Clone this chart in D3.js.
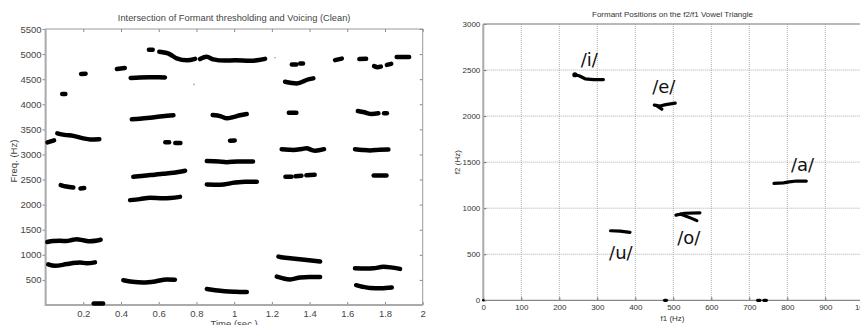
<!DOCTYPE html>
<html>
<head>
<meta charset="utf-8">
<script src="https://cdn.jsdelivr.net/npm/d3@7"></script>
<style>
  body { margin: 0; background: #fff; }
  svg { display: block; font-family: "Liberation Sans", Arial, sans-serif; }
</style>
</head>
<body>
<svg id="chart" width="860" height="325"></svg>
<script>
// ---- left panel: formant tracks, [time (s), freq (Hz)] ----
const timeTicks = [0.2, 0.4, 0.6, 0.8, 1, 1.2, 1.4, 1.6, 1.8, 2];
const freqTicks = [500, 1000, 1500, 2000, 2500, 3000, 3500, 4000, 4500, 5000, 5500];

const formantTracks = [
  [[0.01, 3240], [0.045, 3280]],
  [[0.062, 3420], [0.1, 3390], [0.147, 3370], [0.2, 3320], [0.236, 3300], [0.285, 3305]],
  [[0.088, 4205], [0.105, 4205]],
  [[0.188, 4605], [0.212, 4610]],
  [[0.378, 4705], [0.42, 4722]],
  [[0.451, 4525], [0.5, 4535], [0.55, 4540], [0.6, 4540], [0.633, 4535]],
  [[0.548, 5085], [0.568, 5085]],
  [[0.603, 5045], [0.66, 4995], [0.695, 4915], [0.75, 4875], [0.793, 4905]],
  [[0.819, 4900], [0.855, 4945], [0.89, 4895], [0.95, 4870], [1.005, 4875], [1.084, 4865], [1.164, 4905]],
  [[1.306, 4795], [1.33, 4795]],
  [[1.35, 4815], [1.365, 4815]],
  [[1.27, 4448], [1.332, 4416], [1.394, 4496], [1.42, 4516]],
  [[1.535, 4880], [1.571, 4910]],
  [[1.664, 4900], [1.7, 4906]],
  [[1.742, 4760], [1.76, 4740], [1.778, 4750]],
  [[1.81, 4785], [1.833, 4805]],
  [[1.862, 4940], [1.928, 4940]],
  [[0.457, 3700], [0.5, 3710], [0.554, 3730], [0.62, 3760], [0.678, 3780]],
  [[0.886, 3785], [0.93, 3760], [0.961, 3720], [1.0, 3750], [1.031, 3780], [1.067, 3805]],
  [[1.29, 3830], [1.33, 3830]],
  [[1.656, 3865], [1.69, 3840], [1.73, 3805], [1.765, 3820]],
  [[1.795, 3820], [1.81, 3820]],
  [[0.635, 3241], [0.655, 3241]],
  [[0.688, 3227], [0.715, 3227]],
  [[0.978, 3275], [1.003, 3280]],
  [[1.252, 3105], [1.29, 3095], [1.314, 3090], [1.36, 3110], [1.385, 3125], [1.41, 3090], [1.43, 3075], [1.477, 3105]],
  [[1.641, 3105], [1.68, 3090], [1.721, 3080], [1.77, 3095], [1.818, 3100]],
  [[0.855, 2870], [0.92, 2860], [0.96, 2845], [1.02, 2860], [1.1, 2860]],
  [[0.465, 2555], [0.51, 2570], [0.554, 2590], [0.62, 2615], [0.678, 2635], [0.74, 2675]],
  [[0.08, 2390], [0.11, 2360], [0.147, 2340]],
  [[0.185, 2320], [0.205, 2330]],
  [[0.448, 2090], [0.5, 2110], [0.554, 2135], [0.624, 2125], [0.713, 2155]],
  [[0.855, 2400], [0.925, 2395], [1.005, 2440], [1.06, 2455], [1.12, 2455]],
  [[1.272, 2556], [1.304, 2556]],
  [[1.325, 2565], [1.357, 2575]],
  [[1.383, 2585], [1.427, 2595]],
  [[1.74, 2583], [1.808, 2583]],
  [[0.009, 1255], [0.04, 1275], [0.076, 1280], [0.11, 1275], [0.145, 1300], [0.165, 1310], [0.2, 1290], [0.236, 1270], [0.292, 1300]],
  [[0.014, 810], [0.05, 780], [0.112, 815], [0.16, 840], [0.182, 848], [0.218, 830], [0.262, 850]],
  [[0.255, 30], [0.305, 30]],
  [[0.412, 495], [0.46, 465], [0.518, 450], [0.58, 470], [0.642, 510], [0.686, 505]],
  [[0.855, 320], [0.9, 295], [0.95, 275], [1.005, 265], [1.067, 260]],
  [[1.235, 965], [1.26, 945], [1.297, 930], [1.385, 895], [1.456, 865]],
  [[1.226, 565], [1.26, 530], [1.297, 510], [1.35, 550], [1.4, 560], [1.456, 560]],
  [[1.641, 730], [1.7, 725], [1.738, 730], [1.792, 760], [1.83, 750], [1.88, 720]],
  [[1.647, 395], [1.68, 365], [1.721, 340], [1.78, 335], [1.836, 350]]
];
const specks = [[0.787, 4396], [1.217, 4926]];

// ---- right panel: vowel clusters, [f1 (Hz), f2 (Hz)] ----
const f1Ticks = [0, 100, 200, 300, 400, 500, 600, 700, 800, 900, 1000];
const f2Ticks = [0, 500, 1000, 1500, 2000, 2500, 3000];

const vowelClusters = [
  [[241, 2449], [252, 2438], [268, 2405], [290, 2396], [316, 2397]],
  [[450, 2120], [465, 2110], [480, 2125], [505, 2140]],
  [[455, 2115], [470, 2075]],
  [[507, 925], [530, 945], [570, 950]],
  [[520, 935], [545, 895], [562, 865]],
  [[335, 755], [360, 752], [386, 738]],
  [[765, 1270], [790, 1275], [805, 1285], [825, 1295], [850, 1295]],
  [[477, 0], [482, 0]],
  [[722, 0], [728, 0]],
  [[738, 0], [745, 0]]
];
const vowelLabels = ['/i/', '/e/', '/a/', '/o/', '/u/'];
const labelF1 = [279, 475, 840, 541, 362];
const labelF2 = [2545, 2250, 1405, 612, 449];

const svg = d3.select('#chart');
const plain = d => String(d);

// ---------- left panel ----------
const L = { left: 45.6, right: 422.7, top: 29, bottom: 305 };
const xT = d3.scaleLinear().domain([0, 2]).range([L.left, L.right]);
const yF = d3.scaleLinear().domain([0, 5500]).range([L.bottom, L.top]);

const left = svg.append('g');

left.append('g')
  .attr('transform', 'translate(0,' + L.bottom + ')')
  .call(d3.axisBottom(xT).tickValues(timeTicks).tickFormat(plain).tickSize(-3).tickPadding(5).tickSizeOuter(0))
  .call(g => g.select('.domain').remove())
  .call(g => g.selectAll('line').attr('stroke', '#888'))
  .call(g => g.selectAll('text').attr('fill', '#444').style('font-size', '9.5px'));

left.append('g')
  .attr('transform', 'translate(0,' + L.top + ')')
  .call(d3.axisTop(xT).tickValues(timeTicks).tickSize(-3).tickFormat('').tickSizeOuter(0))
  .call(g => g.select('.domain').remove())
  .call(g => g.selectAll('line').attr('stroke', '#888'));

left.append('g')
  .attr('transform', 'translate(' + L.left + ',0)')
  .call(d3.axisLeft(yF).tickValues(freqTicks).tickFormat(plain).tickSize(3).tickPadding(1).tickSizeOuter(0))
  .call(g => g.select('.domain').remove())
  .call(g => g.selectAll('line').attr('stroke', '#888'))
  .call(g => g.selectAll('text').attr('fill', '#444').style('font-size', '9.5px'));

left.append('g')
  .attr('transform', 'translate(' + L.right + ',0)')
  .call(d3.axisRight(yF).tickValues(freqTicks).tickSize(-3).tickFormat('').tickSizeOuter(0))
  .call(g => g.select('.domain').remove())
  .call(g => g.selectAll('line').attr('stroke', '#888'));

left.append('rect')
  .attr('x', L.left).attr('y', L.top)
  .attr('width', L.right - L.left).attr('height', L.bottom - L.top)
  .attr('fill', 'none').attr('stroke', '#999').attr('stroke-width', 1);
left.append('line')
  .attr('x1', L.left).attr('x2', L.left).attr('y1', L.top).attr('y2', L.bottom + 1)
  .attr('stroke', '#aaa').attr('stroke-width', 2);
left.append('line')
  .attr('x1', L.left).attr('x2', L.right).attr('y1', L.bottom).attr('y2', L.bottom)
  .attr('stroke', '#aaa').attr('stroke-width', 2);

const trackLine = d3.line()
  .x(d => xT(d[0]))
  .y(d => yF(d[1]))
  .curve(d3.curveMonotoneX);

left.selectAll('path.track')
  .data(formantTracks)
  .enter()
  .append('path')
  .attr('class', 'track')
  .attr('d', trackLine)
  .attr('fill', 'none')
  .attr('stroke', '#000')
  .attr('stroke-width', 4.5)
  .attr('stroke-linecap', 'round')
  .attr('stroke-linejoin', 'round');

left.selectAll('circle.speck')
  .data(specks)
  .enter()
  .append('circle')
  .attr('cx', d => xT(d[0]))
  .attr('cy', d => yF(d[1]))
  .attr('r', 0.8)
  .attr('fill', '#999');

left.append('text')
  .attr('x', (L.left + L.right) / 2).attr('y', 20.5)
  .attr('text-anchor', 'middle')
  .style('font-size', '9.3px').attr('fill', '#444')
  .text('Intersection of Formant thresholding and Voicing (Clean)');

left.append('text')
  .attr('x', (L.left + L.right) / 2).attr('y', 327)
  .attr('text-anchor', 'middle')
  .style('font-size', '9.5px').attr('fill', '#444')
  .text('Time (sec.)');

left.append('text')
  .attr('transform', 'translate(17,' + ((L.top + L.bottom) / 2 - 6) + ') rotate(-90)')
  .attr('text-anchor', 'middle')
  .style('font-size', '9.5px').attr('fill', '#444')
  .text('Freq. (Hz)');

// ---------- right panel ----------
const R = { left: 483.3, right: 863.3, top: 24, bottom: 300.3 };
const xF1 = d3.scaleLinear().domain([0, 1000]).range([R.left, R.right]);
const yF2 = d3.scaleLinear().domain([0, 3000]).range([R.bottom, R.top]);

const right = svg.append('g');

// dotted grid
right.append('g')
  .selectAll('line')
  .data(f1Ticks.slice(1))
  .enter()
  .append('line')
  .attr('x1', d => xF1(d)).attr('x2', d => xF1(d))
  .attr('y1', R.top).attr('y2', R.bottom)
  .attr('stroke', '#999').attr('stroke-width', 0.8).attr('stroke-dasharray', '1,1');
right.append('g')
  .selectAll('line')
  .data(f2Ticks.slice(1))
  .enter()
  .append('line')
  .attr('x1', R.left).attr('x2', R.right)
  .attr('y1', d => yF2(d)).attr('y2', d => yF2(d))
  .attr('stroke', '#999').attr('stroke-width', 0.8).attr('stroke-dasharray', '1,1');

right.append('g')
  .attr('transform', 'translate(0,' + R.bottom + ')')
  .call(d3.axisBottom(xF1).tickValues(f1Ticks).tickFormat(plain).tickSize(-3).tickPadding(4).tickSizeOuter(0))
  .call(g => g.select('.domain').remove())
  .call(g => g.selectAll('line').attr('stroke', '#666'))
  .call(g => g.selectAll('text').attr('fill', '#333').style('font-size', '8px'));

right.append('g')
  .attr('transform', 'translate(' + R.left + ',0)')
  .call(d3.axisLeft(yF2).tickValues(f2Ticks).tickFormat(plain).tickSize(-3).tickPadding(3).tickSizeOuter(0))
  .call(g => g.select('.domain').remove())
  .call(g => g.selectAll('line').attr('stroke', '#666'))
  .call(g => g.selectAll('text').attr('fill', '#333').style('font-size', '8px'));

right.append('line')
  .attr('x1', R.left).attr('x2', R.right).attr('y1', R.top).attr('y2', R.top)
  .attr('stroke', '#888').attr('stroke-width', 1);
right.append('line')
  .attr('x1', R.left).attr('x2', R.right).attr('y1', R.bottom).attr('y2', R.bottom)
  .attr('stroke', '#888').attr('stroke-width', 1.2);
right.append('line')
  .attr('x1', R.left).attr('x2', R.left).attr('y1', R.top).attr('y2', R.bottom)
  .attr('stroke', '#aaa').attr('stroke-width', 2);

const clusterLine = d3.line()
  .x(d => xF1(d[0]))
  .y(d => yF2(d[1]));

right.selectAll('path.cluster')
  .data(vowelClusters)
  .enter()
  .append('path')
  .attr('class', 'cluster')
  .attr('d', clusterLine)
  .attr('fill', 'none')
  .attr('stroke', '#000')
  .attr('stroke-width', 3.2)
  .attr('stroke-linecap', 'round')
  .attr('stroke-linejoin', 'round');

right.append('circle')
  .attr('cx', xF1(vowelClusters[0][0][0])).attr('cy', yF2(vowelClusters[0][0][1]))
  .attr('r', 2.6).attr('fill', '#000');
right.append('circle')
  .attr('cx', xF1(0)).attr('cy', yF2(0)).attr('r', 1.3).attr('fill', '#000');

right.selectAll('text.vowel')
  .data(vowelLabels)
  .enter()
  .append('text')
  .attr('class', 'vowel')
  .attr('x', (d, i) => xF1(labelF1[i]))
  .attr('y', (d, i) => yF2(labelF2[i]))
  .attr('text-anchor', 'middle')
  .style('font-family', '"DejaVu Sans", sans-serif')
  .style('font-size', '18px')
  .attr('fill', '#111')
  .text(d => d);

right.append('text')
  .attr('x', 672.5).attr('y', 17)
  .attr('text-anchor', 'middle')
  .style('font-size', '8px').attr('fill', '#333')
  .text('Formant Positions on the f2/f1 Vowel Triangle');

right.append('text')
  .attr('x', 672.5).attr('y', 320.5)
  .attr('text-anchor', 'middle')
  .style('font-size', '8px').attr('fill', '#333')
  .text('f1 (Hz)');

right.append('text')
  .attr('transform', 'translate(459.5,' + ((R.top + R.bottom) / 2) + ') rotate(-90)')
  .attr('text-anchor', 'middle')
  .style('font-size', '8px').attr('fill', '#333')
  .text('f2 (Hz)');
</script>
</body>
</html>
